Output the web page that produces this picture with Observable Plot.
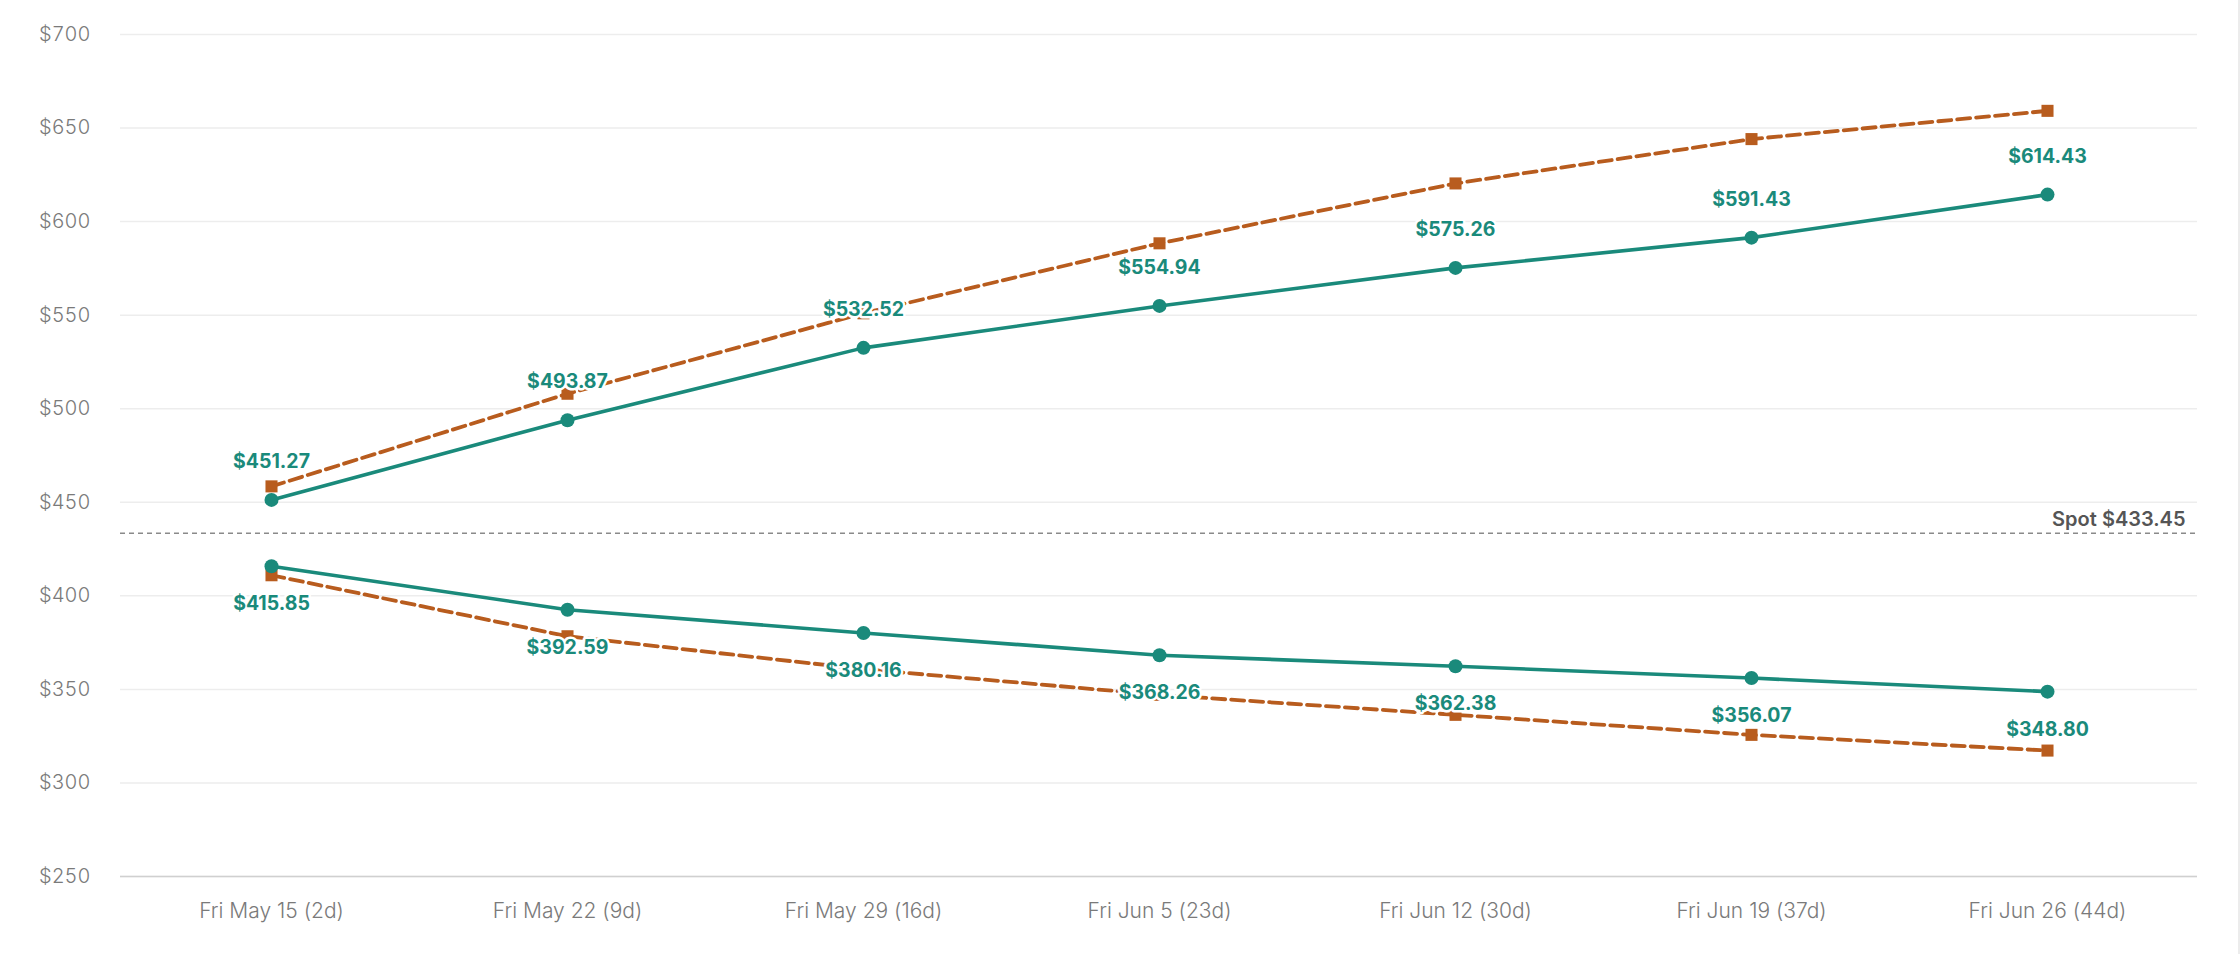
<!DOCTYPE html>
<html>
<head>
<meta charset="utf-8">
<script src="https://cdn.jsdelivr.net/npm/d3@7"></script>
<script src="https://cdn.jsdelivr.net/npm/@observablehq/plot@0.6"></script>
<style>
  html, body { margin: 0; padding: 0; background: #fff; overflow: hidden; }
  #chart { position: relative; width: 2240px; height: 954px; }
  #edge { position: absolute; right: 0; top: 0; width: 2px; height: 954px; background: #ececec; }
</style>
</head>
<body>
<div id="chart"><div id="edge"></div></div>
<script>
const expiries = ["Fri May 15 (2d)", "Fri May 22 (9d)", "Fri May 29 (16d)", "Fri Jun 5 (23d)", "Fri Jun 12 (30d)", "Fri Jun 19 (37d)", "Fri Jun 26 (44d)"];
const upperMove = [451.27, 493.87, 532.52, 554.94, 575.26, 591.43, 614.43];
const lowerMove = [415.85, 392.59, 380.16, 368.26, 362.38, 356.07, 348.80];
const upperAlt = [458.5, 508.0, 551.0, 588.4, 620.4, 644.1, 659.2];
const lowerAlt = [411.0, 378.4, 360.8, 347.1, 336.4, 325.7, 317.3];
const spot = 433.45;
const yTicks = [250, 300, 350, 400, 450, 500, 550, 600, 650, 700];

const teal = "#1a8a7b";
const orange = "#b85c1e";

const rows = (vals) => expiries.map((e, i) => ({expiry: e, value: vals[i]}));
const up = rows(upperMove), lo = rows(lowerMove), upA = rows(upperAlt), loA = rows(lowerAlt);
const fmt = (v) => "$" + v.toFixed(2);

const chart = Plot.plot({
  width: 2240,
  height: 954,
  marginLeft: 120,
  marginRight: 43,
  marginTop: 34,
  marginBottom: 78,
  style: {fontFamily: "Inter, 'Noto Sans', sans-serif", background: "#fff"},
  x: {type: "point", domain: expiries, padding: 0.5, label: null},
  y: {domain: [250, 700], label: null},
  marks: [
    Plot.gridY(yTicks, {stroke: "#ededed", strokeOpacity: 1, strokeWidth: 1.5}),
    Plot.ruleY([250], {stroke: "#d0d0d0", strokeWidth: 1.5}),
    Plot.axisY(yTicks, {tickSize: 0, tickPadding: 30, tickFormat: d => "$" + d, fontSize: 20, fill: "#7a7a7a", fontWeight: 300}),
    Plot.axisX({tickSize: 0, tickPadding: 27, fontSize: 21, fill: "#7a7a7a", fontWeight: 300}),
    Plot.ruleY([spot], {stroke: "#8a8a8a", strokeWidth: 1.5, strokeDasharray: "5,4"}),
    Plot.text([spot], {y: d => d, text: d => "Spot $" + d.toFixed(2), frameAnchor: "right", textAnchor: "end", dx: -12, dy: -14, fontSize: 20, fontWeight: 600, fill: "#555"}),
    Plot.line(upA, {x: "expiry", y: "value", stroke: orange, strokeWidth: 3.8, strokeDasharray: "13,6"}),
    Plot.line(loA, {x: "expiry", y: "value", stroke: orange, strokeWidth: 3.8, strokeDasharray: "13,6"}),
    Plot.dot(upA, {x: "expiry", y: "value", symbol: "square", r: 6.8, fill: orange}),
    Plot.dot(loA, {x: "expiry", y: "value", symbol: "square", r: 6.8, fill: orange}),
    Plot.line(up, {x: "expiry", y: "value", stroke: teal, strokeWidth: 3.6}),
    Plot.line(lo, {x: "expiry", y: "value", stroke: teal, strokeWidth: 3.6}),
    Plot.dot(up, {x: "expiry", y: "value", r: 7, fill: teal}),
    Plot.dot(lo, {x: "expiry", y: "value", r: 7, fill: teal}),
    Plot.text(up, {x: "expiry", y: "value", text: d => fmt(d.value), dy: -38, fontSize: 19.5, fontWeight: 700, fill: teal, stroke: "#fff", strokeWidth: 5}),
    Plot.text(lo, {x: "expiry", y: "value", text: d => fmt(d.value), dy: 38, fontSize: 19.5, fontWeight: 700, fill: teal, stroke: "#fff", strokeWidth: 5})
  ]
});
document.getElementById("chart").appendChild(chart);
</script>
</body>
</html>
